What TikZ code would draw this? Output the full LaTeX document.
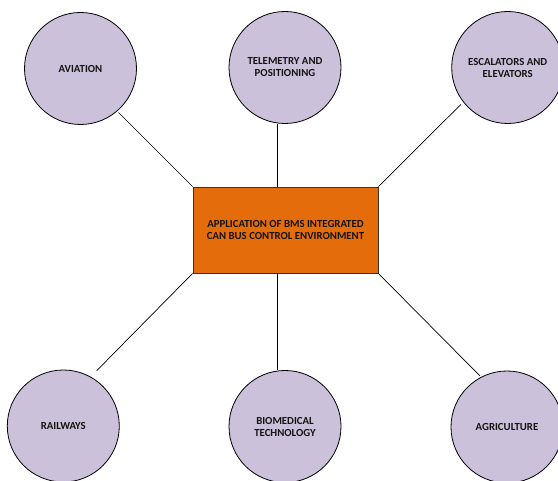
\documentclass[tikz,border=0pt]{standalone}
\usepackage{fontspec}
\setmainfont{Carlito}[BoldFont={Carlito Bold}]
\definecolor{lav}{HTML}{CCC1DA}
\definecolor{orng}{HTML}{E46C0A}
\definecolor{txt}{HTML}{141414}
\begin{document}
\begin{tikzpicture}[x=1pt,y=-1pt,
  topic/.style={circle,draw=black,line width=0.8pt,fill=lav,minimum size=112pt,inner sep=0pt,
    align=center,text=txt,font=\bfseries\fontsize{10.8}{12}\selectfont},
  hub/.style={rectangle,draw=black!80,line width=0.8pt,fill=orng,minimum width=185pt,minimum height=86pt,
    inner sep=0pt,align=center,text=txt,font=\bfseries\fontsize{10.8}{13}\selectfont},
  link/.style={draw=black,line width=0.7pt}]
\useasboundingbox (0,0) rectangle (558,481);
\node[hub] (box) at (285.5,230) {APPLICATION OF BMS INTEGRATED\\CAN BUS CONTROL ENVIRONMENT};
\node[topic] (av) at (80.5,68.5) {AVIATION};
\node[topic] (tel) at (285,67.5) {TELEMETRY AND\\POSITIONING};
\node[topic] (esc) at (507.7,67.5) {ESCALATORS AND\\ELEVATORS};
\node[topic] (rail) at (63.3,426) {RAILWAYS};
\node[topic] (bio) at (285,426.5) {BIOMEDICAL\\TECHNOLOGY};
\node[topic] (agr) at (507,427) {AGRICULTURE};
\coordinate (avend) at (118.5,112.5);
\coordinate (escend) at (461,104.3);
\coordinate (railend) at (96.7,370.7);
\coordinate (agrend) at (480,376);
\coordinate (midx) at (277,0);
\draw[link] (box.north west) -- (avend);
\draw[link] (box.north east) -- (escend);
\draw[link] (box.south west) -- (railend);
\draw[link] (box.south east) -- (agrend);
\draw[link] (midx |- box.north) -- (midx |- tel.south);
\draw[link] (midx |- box.south) -- (midx |- bio.north);
\end{tikzpicture}
\end{document}
